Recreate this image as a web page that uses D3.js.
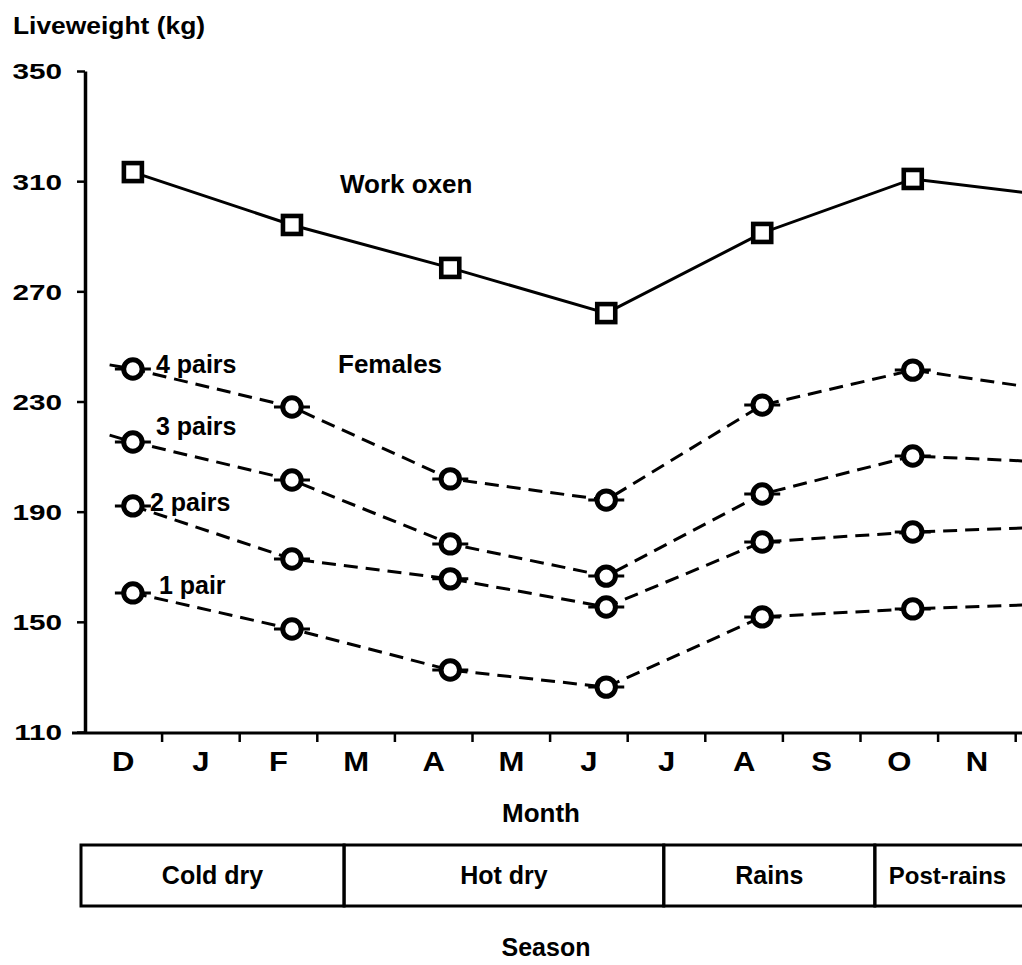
<html>
<head>
<meta charset="utf-8">
<title>Liveweight by month</title>
<script src="https://d3js.org/d3.v7.min.js"></script>
<style>
  body { margin: 0; background: #fff; }
  svg { display: block; background: #fff; }
  text { font-family: "Liberation Sans", Arial, sans-serif; font-weight: bold; fill: #000; }
  .axis path, .axis line { stroke: #000; fill: none; }
</style>
</head>
<body>
<script>
// month letters along the axis (next year's D is past the right edge)
var months = ["D", "J", "F", "M", "A", "M", "J", "J", "A", "S", "O", "N"];
var yTicks = [110, 150, 190, 230, 270, 310, 350];

// weighing dates, in months from the start of December
var samplePos = [0.63, 2.68, 4.72, 6.73, 8.74, 10.68, 12.68];

var workOxen = [313.3, 294.1, 278.5, 262.1, 291.2, 310.8, 304.0];
var females4 = [241.8, 228.0, 201.9, 194.2, 228.7, 241.4, 233.2];
var females3 = [215.3, 201.5, 178.3, 166.6, 196.4, 210.2, 207.7];
var females2 = [192.1, 172.8, 165.6, 155.4, 179.0, 182.6, 184.7];
var females1 = [160.5, 147.4, 132.5, 126.3, 151.8, 154.7, 156.7];
var femaleLabels = ["4 pairs", "3 pairs", "2 pairs", "1 pair"];
// short lead-in before the first weighing (only 4 and 3 pairs have one)
var leadPos = 0.33;
var leadValues = [243.3, 217.8, null, null];

var seasonNames = ["Cold dry", "Hot dry", "Rains", "Post-rains"];
var seasonBreaks = [0, 3.39, 7.51, 10.23, 12.5];

var w = 1022, h = 965;

var x = d3.scaleLinear().domain([0, 13]).range([84, 84 + 13 * 77.6]);
var y = d3.scaleLinear().domain([110, 350]).range([732, 71]);

var svg = d3.select("body").append("svg")
    .attr("width", w)
    .attr("height", h);

// y axis
var yAxis = d3.axisLeft(y).tickValues(yTicks).tickSize(8).tickSizeOuter(0);
var gy = svg.append("g")
    .attr("class", "axis")
    .attr("transform", "translate(85,0)")
    .call(yAxis);
gy.select(".domain").attr("stroke-width", 3.5);
gy.selectAll(".tick line").attr("stroke-width", 2.5);
gy.selectAll(".tick text")
    .attr("x", -17)
    .attr("dy", "0.36em")
    .attr("transform", "scale(1.35,1)")
    .style("font-size", "22px");

// x axis: ticks on month boundaries
var xAxis = d3.axisBottom(x).tickValues(d3.range(1, 13)).tickSize(9).tickSizeOuter(0).tickFormat("");
var gx = svg.append("g")
    .attr("class", "axis")
    .attr("transform", "translate(0,733)")
    .call(xAxis);
gx.select(".domain").attr("d", "M72,0H" + w).attr("stroke-width", 3);
gx.selectAll(".tick line").attr("stroke-width", 2.5);

// month letters centred in each month
var xLab = d3.axisBottom(x)
    .tickValues(d3.range(0, months.length).map(function (i) { return i + 0.5; }))
    .tickSize(0)
    .tickFormat(function (d) { return months[Math.floor(d)]; });
var gl = svg.append("g")
    .attr("class", "axis")
    .attr("transform", "translate(0,733)")
    .call(xLab);
gl.select(".domain").remove();
gl.selectAll(".tick text")
    .attr("y", 38)
    .attr("dy", 0)
    .attr("transform", "scale(1.15,1)")
    .style("font-size", "27px");

svg.append("text")
    .attr("x", 541).attr("y", 822)
    .attr("text-anchor", "middle")
    .style("font-size", "26px")
    .text("Month");

// axis title
svg.append("text")
    .attr("x", 13).attr("y", 34)
    .attr("transform", "translate(13,0) scale(1.1,1) translate(-13,0)")
    .style("font-size", "24px")
    .text("Liveweight (kg)");

// lines
var line = d3.line()
    .x(function (d) { return x(d[0]); })
    .y(function (d) { return y(d[1]); });

var oxPts = samplePos.map(function (p, i) { return [p, workOxen[i]]; });
svg.append("path")
    .datum(oxPts)
    .attr("fill", "none")
    .attr("stroke", "#000")
    .attr("stroke-width", 3)
    .attr("d", line);

var femaleSeries = [females4, females3, females2, females1];
femaleSeries.forEach(function (vals, k) {
    var pts = samplePos.map(function (p, i) { return [p, vals[i]]; });
    if (leadValues[k] !== null) pts.unshift([leadPos, leadValues[k]]);
    svg.append("path")
        .datum(pts)
        .attr("fill", "none")
        .attr("stroke", "#000")
        .attr("stroke-width", 3)
        .attr("stroke-dasharray", "14,8")
        .attr("d", line);
});

// circle markers with short horizontal whiskers
femaleSeries.forEach(function (vals) {
    var pts = samplePos.map(function (p, i) { return [p, vals[i]]; });
    svg.selectAll(null)
        .data(pts)
        .enter()
        .append("line")
        .attr("x1", function (d) { return x(d[0]) - 18; })
        .attr("x2", function (d) { return x(d[0]) + 18; })
        .attr("y1", function (d) { return y(d[1]); })
        .attr("y2", function (d) { return y(d[1]); })
        .attr("stroke", "#000")
        .attr("stroke-width", 3);
    svg.selectAll(null)
        .data(pts)
        .enter()
        .append("circle")
        .attr("cx", function (d) { return x(d[0]); })
        .attr("cy", function (d) { return y(d[1]); })
        .attr("r", 9.2)
        .attr("fill", "#fff")
        .attr("stroke", "#000")
        .attr("stroke-width", 5);
});

// square markers for oxen
svg.selectAll("rect.ox")
    .data(oxPts)
    .enter()
    .append("rect")
    .attr("class", "ox")
    .attr("x", function (d) { return x(d[0]) - 9; })
    .attr("y", function (d) { return y(d[1]) - 9; })
    .attr("width", 18)
    .attr("height", 18)
    .attr("fill", "#fff")
    .attr("stroke", "#000")
    .attr("stroke-width", 4.6);

// series labels next to the first point
var labelOffset = [[23, 4], [23, -7], [17, 5], [26, 1]];
femaleSeries.forEach(function (vals, k) {
    svg.append("text")
        .attr("x", x(samplePos[0]) + labelOffset[k][0])
        .attr("y", y(vals[0]) + labelOffset[k][1])
        .style("font-size", "25px")
        .text(femaleLabels[k]);
});

svg.append("text")
    .attr("x", 340).attr("y", 193)
    .style("font-size", "26px")
    .text("Work oxen");
svg.append("text")
    .attr("x", 338).attr("y", 373)
    .style("font-size", "26px")
    .text("Females");

// season bar
var boxTop = 845, boxBottom = 906;
var seasons = seasonNames.map(function (n, i) {
    return { name: n, start: seasonBreaks[i], end: seasonBreaks[i + 1] };
});
svg.selectAll("rect.season")
    .data(seasons)
    .enter()
    .append("rect")
    .attr("class", "season")
    .attr("x", function (d) { return x(d.start) - 3; })
    .attr("y", boxTop)
    .attr("width", function (d) { return x(d.end) - x(d.start); })
    .attr("height", boxBottom - boxTop)
    .attr("fill", "none")
    .attr("stroke", "#000")
    .attr("stroke-width", 3);
// the last season runs past the edge, so its name sits just inside the divider
svg.selectAll("text.season")
    .data(seasons)
    .enter()
    .append("text")
    .attr("class", "season")
    .attr("x", function (d, i) {
        return i === seasons.length - 1 ? x(d.start) + 11 : (x(d.start) + x(d.end)) / 2 - 3;
    })
    .attr("y", 884)
    .attr("text-anchor", function (d, i) { return i === seasons.length - 1 ? "start" : "middle"; })
    .style("font-size", function (d, i) { return i === seasons.length - 1 ? "24px" : "25px"; })
    .text(function (d) { return d.name; });

svg.append("text")
    .attr("x", 546).attr("y", 956)
    .attr("text-anchor", "middle")
    .style("font-size", "25px")
    .text("Season");
</script>
</body>
</html>
